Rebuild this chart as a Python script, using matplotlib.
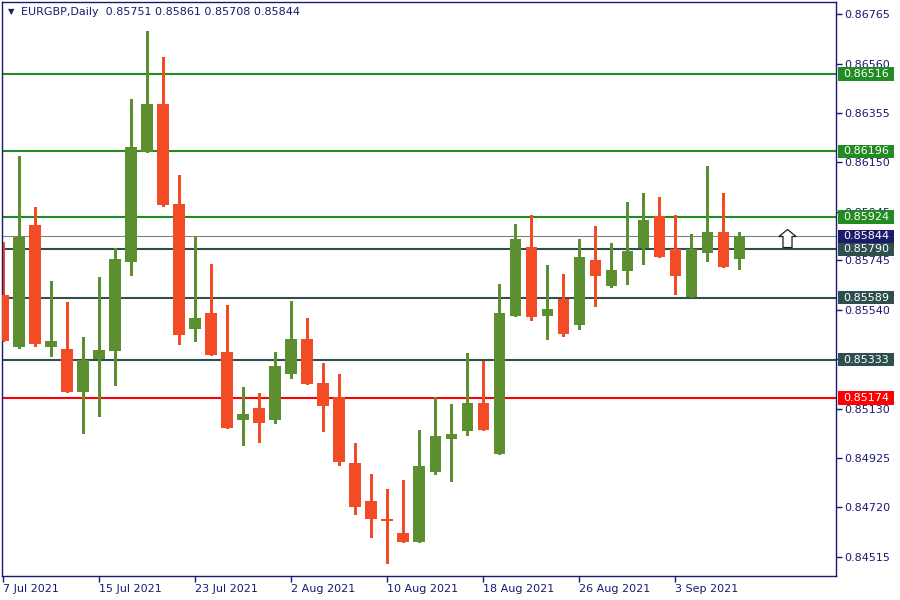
import numpy as np
import matplotlib.pyplot as plt
from matplotlib.patches import Rectangle
from matplotlib.path import Path
import matplotlib.transforms as mtransforms

# EURGBP daily candles, 7 Jul 2021 .. 9 Sep 2021
opens = [0.85601, 0.85385, 0.85891, 0.85385, 0.85377, 0.85199, 0.85335, 0.85369,
         0.85737, 0.86193, 0.86392, 0.85978, 0.85460, 0.85526, 0.85364, 0.85083,
         0.85132, 0.85083, 0.85273, 0.85418, 0.85236, 0.85178, 0.84904, 0.84747,
         0.84672, 0.84614, 0.84577, 0.84867, 0.85004, 0.85037, 0.85153, 0.84942,
         0.85514, 0.85800, 0.85514, 0.85584, 0.85476, 0.85746, 0.85638, 0.85700,
         0.85795, 0.85928, 0.85791, 0.85592, 0.85775, 0.85862, 0.85751]
highs = [0.85820, 0.86177, 0.85965, 0.85659, 0.85572, 0.85427, 0.85675, 0.85795,
         0.86413, 0.86695, 0.86587, 0.86098, 0.85841, 0.85729, 0.85559, 0.85219,
         0.85195, 0.85364, 0.85576, 0.85505, 0.85319, 0.85273, 0.84987, 0.84859,
         0.84797, 0.84834, 0.85041, 0.85178, 0.85149, 0.85360, 0.85327, 0.85646,
         0.85895, 0.85932, 0.85725, 0.85688, 0.85833, 0.85887, 0.85816, 0.85986,
         0.86023, 0.86007, 0.85932, 0.85853, 0.86135, 0.86023, 0.85861]
lows = [0.85412, 0.85381, 0.85389, 0.85348, 0.85199, 0.85029, 0.85099, 0.85228,
        0.85684, 0.86193, 0.85969, 0.85398, 0.85410, 0.85352, 0.85050, 0.84979,
        0.84992, 0.85070, 0.85257, 0.85232, 0.85037, 0.84896, 0.84693, 0.84598,
        0.84490, 0.84577, 0.84577, 0.84859, 0.84830, 0.85020, 0.85041, 0.84942,
        0.85514, 0.85497, 0.85418, 0.85431, 0.85460, 0.85555, 0.85634, 0.85646,
        0.85729, 0.85758, 0.85605, 0.85592, 0.85742, 0.85717, 0.85708]
closes = [0.85412, 0.85841, 0.85398, 0.85410, 0.85199, 0.85331, 0.85373, 0.85750,
          0.86214, 0.86392, 0.85973, 0.85435, 0.85505, 0.85352, 0.85050, 0.85108,
          0.85070, 0.85306, 0.85418, 0.85232, 0.85141, 0.84909, 0.84722, 0.84672,
          0.84666, 0.84577, 0.84892, 0.85016, 0.85025, 0.85153, 0.85041, 0.85526,
          0.85833, 0.85509, 0.85543, 0.85439, 0.85758, 0.85679, 0.85704, 0.85783,
          0.85911, 0.85758, 0.85679, 0.85791, 0.85862, 0.85717, 0.85844]

date_labels = ['7 Jul 2021', '15 Jul 2021', '23 Jul 2021', '2 Aug 2021',
               '10 Aug 2021', '18 Aug 2021', '26 Aug 2021', '3 Sep 2021']
price_ticks = [0.86765, 0.86560, 0.86355, 0.86150, 0.85945, 0.85745,
               0.85540, 0.85335, 0.85130, 0.84925, 0.84720, 0.84515]

levels = [0.86516, 0.86196, 0.85924, 0.85790, 0.85589, 0.85333, 0.85174]
level_colors = ['#228b22', '#228b22', '#228b22', '#2f4f4f', '#2f4f4f', '#2f4f4f', '#ff0000']
last_price = 0.85844

navy = '#191970'
up_col = '#5b8f30'
down_col = '#f24b25'

fig = plt.figure(figsize=(9, 6), dpi=100)
ax = fig.add_axes([2 / 900, 24 / 600, 834 / 900, 574 / 600])

x = np.arange(len(opens))
o = np.array(opens)
c = np.array(closes)
cols = [up_col if cc >= oo else down_col for oo, cc in zip(o, c)]

# levels first, candles on top
for v, col in zip(levels, level_colors):
    ax.axhline(v, color=col, lw=1.5, zorder=1)
ax.axhline(last_price, color='#808080', lw=0.8, zorder=1)

ax.vlines(x, lows, highs, colors=cols, lw=1.0, antialiased=False, zorder=2)
ax.bar(x, np.maximum(np.abs(c - o), 0.00004), bottom=np.minimum(o, c),
       width=0.69, color=cols, linewidth=0, zorder=3)

# arrow marker after the last bar
arrow = Path([(0, 9), (8.5, 2), (4.5, 2), (4.5, -9), (-4.5, -9), (-4.5, 2), (-8.5, 2), (0, 9)],
             [Path.MOVETO] + [Path.LINETO] * 6 + [Path.CLOSEPOLY])
ax.plot([len(opens) + 2], [last_price - 0.00006], marker=arrow, markersize=13,
        markerfacecolor='white', markeredgecolor='#2a1a10', markeredgewidth=0.9, zorder=4)

ax.set_xlim(-0.0625, 52.06)
ax.set_ylim(0.84436, 0.86815)

ax.yaxis.tick_right()
ax.set_yticks(price_ticks)
ax.set_yticklabels(['%.5f' % t for t in price_ticks])
ax.set_xticks(np.arange(0, len(opens), 6)[:len(date_labels)])
ax.set_xticklabels(date_labels, ha='left')
ax.tick_params(axis='both', direction='out', length=4, width=1, colors=navy,
               labelsize=8, pad=2)
for s in ax.spines.values():
    s.set_color(navy)
    s.set_linewidth(1)

# price labels on the right axis
trans = mtransforms.blended_transform_factory(ax.transAxes, ax.transData)
box_h = 13.3 / 24133
for v, col in zip(levels + [last_price], level_colors + ['#1c1c6e']):
    ax.add_patch(Rectangle((836 / 834, v - box_h / 2), 56 / 834, box_h, transform=trans,
                           facecolor=col, edgecolor='none', clip_on=False, zorder=5))
    ax.text(841 / 834, v, '%.5f' % v, transform=trans, color='white', fontsize=8,
            va='center', ha='left', clip_on=False, zorder=6)

fig.text(8 / 900, 1 - 12 / 600, '\u25bc', fontsize=6, color=navy, va='center')
fig.text(21 / 900, 1 - 12 / 600, 'EURGBP,Daily  0.85751 0.85861 0.85708 0.85844',
         fontsize=8, color=navy, va='center')

fig.savefig('out.png', dpi=100)
